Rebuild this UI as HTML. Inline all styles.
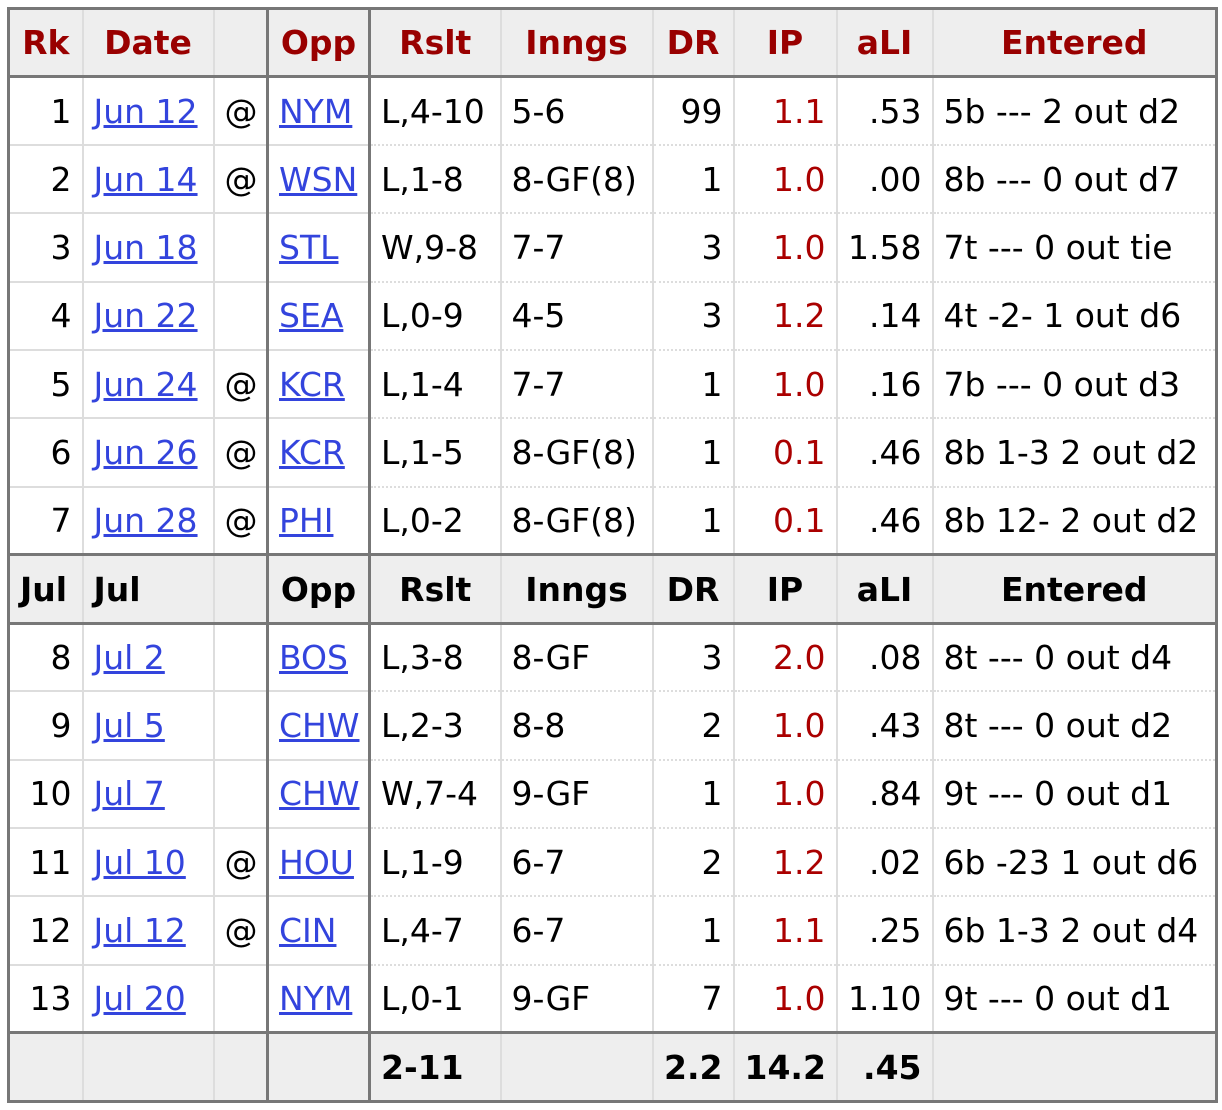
<!DOCTYPE html>
<html><head><style>
body{margin:0;background:#fff;}
table{position:absolute;left:7px;top:7px;border-collapse:collapse;table-layout:fixed;width:1208px;font-family:"DejaVu Sans","Liberation Sans",sans-serif;font-size:33px;border:3px solid #777;}
td,th{padding:0 10px;white-space:nowrap;overflow:hidden;border-left:2px solid #ddd;border-top:2px dotted #ddd;}
tr{height:68.3px;}
th{background:#eee;color:#990000;font-weight:bold;text-align:center;border-bottom:3px solid #777;}
tr.sub th{color:#000;border-top:3px solid #777;}
tr.foot td{background:#eee;font-weight:bold;border-top:3px solid #777;}
td.l1,td.l2,td.l3,td.l4{border-top:2px solid #ddd;}
.r{text-align:right;}.c{text-align:center;}.L{text-align:left;}
.b{border-left:3px solid #777 !important;}
a{color:#3344dd;text-decoration:underline;}
.ip{color:#a00;text-align:right;}
</style></head><body>
<table>
<colgroup><col style="width:74px"><col style="width:131px"><col style="width:54px"><col style="width:102px"><col style="width:131px"><col style="width:152px"><col style="width:81px"><col style="width:103px"><col style="width:96px"><col style="width:284px"></colgroup>
<tr><th>Rk</th><th>Date</th><th></th><th class="b">Opp</th><th class="b">Rslt</th><th>Inngs</th><th>DR</th><th>IP</th><th>aLI</th><th>Entered</th></tr>
<tr><td class="r l1">1</td><td class="l2"><a>Jun 12</a></td><td class="c l3">@</td><td class="b l4"><a>NYM</a></td><td class="b">L,4-10</td><td>5-6</td><td class="r">99</td><td class="ip">1.1</td><td class="r">.53</td><td>5b --- 2 out d2</td></tr>
<tr><td class="r l1">2</td><td class="l2"><a>Jun 14</a></td><td class="c l3">@</td><td class="b l4"><a>WSN</a></td><td class="b">L,1-8</td><td>8-GF(8)</td><td class="r">1</td><td class="ip">1.0</td><td class="r">.00</td><td>8b --- 0 out d7</td></tr>
<tr><td class="r l1">3</td><td class="l2"><a>Jun 18</a></td><td class="c l3"></td><td class="b l4"><a>STL</a></td><td class="b">W,9-8</td><td>7-7</td><td class="r">3</td><td class="ip">1.0</td><td class="r">1.58</td><td>7t --- 0 out tie</td></tr>
<tr><td class="r l1">4</td><td class="l2"><a>Jun 22</a></td><td class="c l3"></td><td class="b l4"><a>SEA</a></td><td class="b">L,0-9</td><td>4-5</td><td class="r">3</td><td class="ip">1.2</td><td class="r">.14</td><td>4t -2- 1 out d6</td></tr>
<tr><td class="r l1">5</td><td class="l2"><a>Jun 24</a></td><td class="c l3">@</td><td class="b l4"><a>KCR</a></td><td class="b">L,1-4</td><td>7-7</td><td class="r">1</td><td class="ip">1.0</td><td class="r">.16</td><td>7b --- 0 out d3</td></tr>
<tr><td class="r l1">6</td><td class="l2"><a>Jun 26</a></td><td class="c l3">@</td><td class="b l4"><a>KCR</a></td><td class="b">L,1-5</td><td>8-GF(8)</td><td class="r">1</td><td class="ip">0.1</td><td class="r">.46</td><td>8b 1-3 2 out d2</td></tr>
<tr><td class="r l1">7</td><td class="l2"><a>Jun 28</a></td><td class="c l3">@</td><td class="b l4"><a>PHI</a></td><td class="b">L,0-2</td><td>8-GF(8)</td><td class="r">1</td><td class="ip">0.1</td><td class="r">.46</td><td>8b 12- 2 out d2</td></tr>
<tr class="sub"><th class="L">Jul</th><th class="L">Jul</th><th></th><th class="b">Opp</th><th class="b">Rslt</th><th>Inngs</th><th>DR</th><th>IP</th><th>aLI</th><th>Entered</th></tr>
<tr><td class="r l1" style="border-top:none">8</td><td class="l2" style="border-top:none"><a>Jul 2</a></td><td class="c l3" style="border-top:none"></td><td class="b l4" style="border-top:none"><a>BOS</a></td><td class="b" style="border-top:none">L,3-8</td><td style="border-top:none">8-GF</td><td class="r" style="border-top:none">3</td><td class="ip" style="border-top:none">2.0</td><td class="r" style="border-top:none">.08</td><td style="border-top:none">8t --- 0 out d4</td></tr>
<tr><td class="r l1">9</td><td class="l2"><a>Jul 5</a></td><td class="c l3"></td><td class="b l4"><a>CHW</a></td><td class="b">L,2-3</td><td>8-8</td><td class="r">2</td><td class="ip">1.0</td><td class="r">.43</td><td>8t --- 0 out d2</td></tr>
<tr><td class="r l1">10</td><td class="l2"><a>Jul 7</a></td><td class="c l3"></td><td class="b l4"><a>CHW</a></td><td class="b">W,7-4</td><td>9-GF</td><td class="r">1</td><td class="ip">1.0</td><td class="r">.84</td><td>9t --- 0 out d1</td></tr>
<tr><td class="r l1">11</td><td class="l2"><a>Jul 10</a></td><td class="c l3">@</td><td class="b l4"><a>HOU</a></td><td class="b">L,1-9</td><td>6-7</td><td class="r">2</td><td class="ip">1.2</td><td class="r">.02</td><td>6b -23 1 out d6</td></tr>
<tr><td class="r l1">12</td><td class="l2"><a>Jul 12</a></td><td class="c l3">@</td><td class="b l4"><a>CIN</a></td><td class="b">L,4-7</td><td>6-7</td><td class="r">1</td><td class="ip">1.1</td><td class="r">.25</td><td>6b 1-3 2 out d4</td></tr>
<tr><td class="r l1">13</td><td class="l2"><a>Jul 20</a></td><td class="c l3"></td><td class="b l4"><a>NYM</a></td><td class="b">L,0-1</td><td>9-GF</td><td class="r">7</td><td class="ip">1.0</td><td class="r">1.10</td><td>9t --- 0 out d1</td></tr>
<tr class="foot"><td></td><td></td><td></td><td class="b"></td><td class="b">2-11</td><td></td><td class="r">2.2</td><td class="r">14.2</td><td class="r">.45</td><td></td></tr>
</table>
</body></html>
